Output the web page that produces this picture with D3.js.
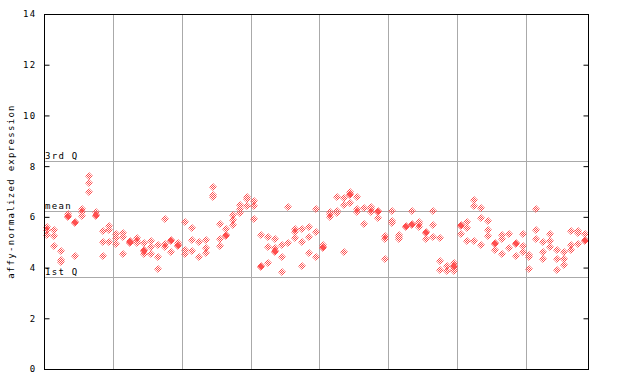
<!DOCTYPE html>
<html><head><meta charset="utf-8">
<script src="https://cdn.jsdelivr.net/npm/d3@7"></script>
<style>body{margin:0;background:#fff;}svg{display:block;}</style>
</head><body>
<script>
// per-sample replicate values (affy-normalized expression), 79 samples left to right
const expression = [
[5.61,5.48,5.28],[5.5,5.25,4.85],[4.65,4.3,4.23],[6.12,6.02,5.98],[5.79,5.75,4.45],
[6.3,6.18,6.03],[7.61,7.32,6.97],[6.19,6.07,6.03],[5.44,5.0,4.47],[5.65,5.48,5.0],
[5.31,5.18,4.92],[5.37,5.2,4.53],[5.04,5.0,4.96],[5.15,5.06,4.98],[4.98,4.69,4.65,4.53],
[5.05,4.8,4.53],[4.88,4.4,3.93],[5.92,4.93,4.8],[5.08,5.04,4.61],[4.98,4.9,4.86],
[5.78,4.7,4.55],[5.55,5.09,4.65],[5.02,4.4],[5.09,4.76,4.59],[7.17,6.86,6.77],
[5.72,5.11,4.85],[5.51,5.3,5.26],[6.07,5.88,5.68],[6.47,6.3,6.14],[6.77,6.69,6.43],
[6.63,6.43,5.92],[5.28,4.08,4.04],[5.19,4.8,4.19],[5.11,4.76,4.67,4.63],[4.89,4.4,3.81],
[6.37,4.96],[5.51,5.42,5.15],[5.51,5.02,4.06],[5.59,5.19,4.56],[6.3,5.39,4.4],
[4.89,4.8,4.76],[6.18,6.1,5.98],[6.77,6.24,6.14],[6.73,6.47,4.6],[6.97,6.89,6.85,6.53],
[6.77,6.31,6.2],[6.34,5.71],[6.37,6.3,6.2],[6.25,6.21,5.94],[5.25,5.14,4.33],
[6.23,5.85,5.75],[5.28,5.2,5.12],[5.63,5.59],[6.24,5.71,5.67],[5.8,5.71,5.61],
[5.4,5.36,5.11],[6.24,5.68,5.19],[5.15,4.26,3.9],[4.07,3.86],[4.17,4.08,4.04,3.96,3.86],
[5.67,5.63,5.32],[5.8,5.55,5.05],[6.66,6.43,5.05],[6.34,5.94,4.88],[5.82,5.47,5.23],
[4.96,4.92,4.68],[5.28,5.11,4.52],[5.31,4.76],[4.96,4.92,4.44],[5.31,4.85,4.6],
[4.5,4.4,3.93],[6.3,5.47,5.11],[5.01,4.6,4.33],[5.31,5.06,4.8],[4.68,4.33,3.89],
[4.6,4.33,4.09],[5.43,4.88,4.68],[5.43,5.35,4.92],[5.31,5.08,5.04]
];
const sampleIds = expression.map((_, i) => "s" + (i + 1));
const groupSize = 10;                      // vertical separators every 10 samples
const refLabels = ["3rd Q", "mean", "1st Q"];
const refValues = [8.21, 6.22, 3.62];
const yTicks = [0, 2, 4, 6, 8, 10, 12, 14];
const yLabel = "affy-normalized expression";

const W = 640, H = 384;
const m = {left: 44, right: 52, top: 14, bottom: 15};
const svg = d3.select("body").append("svg").attr("width", W).attr("height", H);

const x = d3.scaleBand().domain(sampleIds).range([m.left, W - m.right]);
const y = d3.scaleLinear().domain([0, 14]).range([H - m.bottom, m.top]);

const defs = svg.append("defs");
const pat = defs.append("pattern").attr("id", "chk").attr("patternUnits", "userSpaceOnUse")
  .attr("width", 2).attr("height", 2);
pat.append("rect").attr("x", 0).attr("y", 0).attr("width", 1).attr("height", 1).attr("fill", "#ff4f4f");
pat.append("rect").attr("x", 1).attr("y", 1).attr("width", 1).attr("height", 1).attr("fill", "#ff4f4f");

const font = "'DejaVu Sans Mono', monospace";

// vertical separators
const seps = sampleIds.filter((d, i) => i > 0 && i % groupSize === 0);
svg.append("g").selectAll("line").data(seps).join("line")
  .attr("x1", d => Math.round(x(d)) + 0.5).attr("x2", d => Math.round(x(d)) + 0.5)
  .attr("y1", m.top).attr("y2", H - m.bottom)
  .attr("stroke", "#aaaaaa").attr("stroke-width", 1);

// reference lines
const ref = svg.append("g");
ref.selectAll("line").data(refValues).join("line")
  .attr("x1", m.left).attr("x2", W - m.right)
  .attr("y1", d => Math.round(y(d)) + 0.5).attr("y2", d => Math.round(y(d)) + 0.5)
  .attr("stroke", "#aaaaaa").attr("stroke-width", 1);
ref.selectAll("text").data(refValues).join("text")
  .attr("x", m.left + 1).attr("y", d => Math.round(y(d)) - 2)
  .attr("font-family", font).attr("font-size", 9).attr("letter-spacing", 1.3)
  .attr("fill", "#000")
  .text((d, i) => refLabels[i]);

// points
const pts = [];
expression.forEach((vals, i) => vals.forEach(v => pts.push({id: sampleIds[i], v})));
svg.append("g").selectAll("path").data(pts).join("path")
  .attr("transform", d => `translate(${Math.round(x(d.id) + x.bandwidth() / 2)},${Math.round(y(d.v))})`)
  .attr("d", "M0,-4L4,0L0,4L-4,0Z")
  .attr("fill", "url(#chk)");

// axes
const yAxisL = d3.axisLeft(y).tickValues(yTicks).tickSize(-5).tickPadding(8).tickFormat(d3.format("d"));
const gl = svg.append("g").attr("transform", `translate(${m.left + 0.5},0)`).call(yAxisL);
const yAxisR = d3.axisRight(y).tickValues(yTicks).tickSize(-5).tickFormat("");
const gr = svg.append("g").attr("transform", `translate(${W - m.right + 0.5},0)`).call(yAxisR);
[gl, gr].forEach(g => {
  g.select(".domain").remove();
  g.selectAll(".tick line").attr("stroke", "#000");
  g.selectAll("text").attr("font-family", font).attr("font-size", 9).attr("letter-spacing", 1.3).attr("fill", "#000");
});

// frame
svg.append("rect").attr("x", m.left + 0.5).attr("y", m.top + 0.5)
  .attr("width", W - m.right - m.left).attr("height", H - m.bottom - m.top)
  .attr("fill", "none").attr("stroke", "#000").attr("stroke-width", 1);

// y label
svg.append("text")
  .attr("transform", `translate(14,${(m.top + H - m.bottom) / 2}) rotate(-90)`)
  .attr("text-anchor", "middle")
  .attr("font-family", font).attr("font-size", 9).attr("letter-spacing", 1.3)
  .text(yLabel);
</script>
</body></html>
